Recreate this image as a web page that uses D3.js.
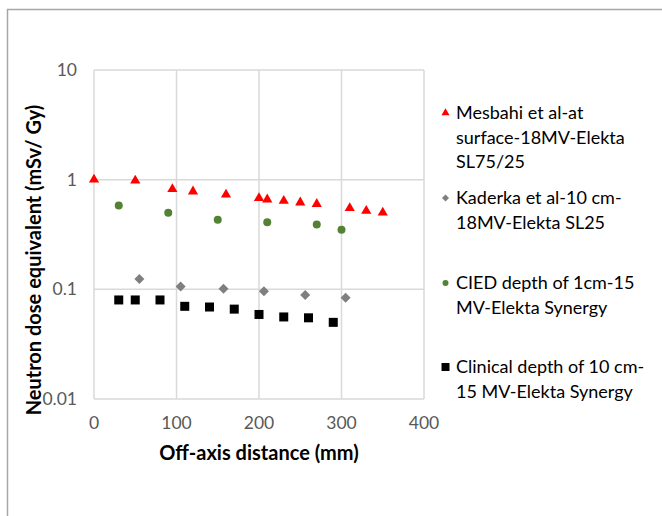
<!DOCTYPE html>
<html><head><meta charset="utf-8">
<script src="https://cdn.jsdelivr.net/npm/d3@7"></script>
<style>body{margin:0;background:#fff}svg{display:block}</style>
</head><body>
<script>
const mesbahiX = [0, 50, 95, 120, 160, 200, 210, 230, 250, 270, 310, 330, 350];
const mesbahiY = [1.0, 0.98, 0.82, 0.78, 0.73, 0.68, 0.66, 0.64, 0.62, 0.60, 0.55, 0.52, 0.50];
const kaderkaX = [55, 105, 157, 206, 256, 305];
const kaderkaY = [0.124, 0.106, 0.101, 0.096, 0.089, 0.084];
const ciedX = [30, 90, 150, 210, 270, 300];
const ciedY = [0.58, 0.50, 0.43, 0.41, 0.39, 0.35];
const clinicalX = [30, 50, 80, 110, 140, 170, 200, 230, 260, 290];
const clinicalY = [0.080, 0.080, 0.080, 0.070, 0.069, 0.066, 0.059, 0.056, 0.055, 0.050];
const xTicks = [0, 100, 200, 300, 400];
const yTicks = [0.01, 0.1, 1, 10];
const yTickLabels = ["0.01", "0.1", "1", "10"];
const legendLines = [
  ["Mesbahi et al-at", "surface-18MV-Elekta", "SL75/25"],
  ["Kaderka et al-10 cm-", "18MV-Elekta SL25"],
  ["CIED depth of 1cm-15", "MV-Elekta Synergy"],
  ["Clinical depth of 10 cm-", "15 MV-Elekta Synergy"]
];
const xTitle = "Off-axis distance (mm)";
const yTitle = "Neutron dose equivalent (mSv/ Gy)";

const W = 662, H = 516;
const font = "Lato, 'Noto Sans', sans-serif";
const svg = d3.select("body").append("svg").attr("width", W).attr("height", H);
svg.append("rect").attr("width", W).attr("height", H).attr("fill", "#fff");
// outer frame (cropped)
svg.append("rect").attr("x", 7.5).attr("y", 9.5).attr("width", W + 20).attr("height", H + 20)
  .attr("fill", "none").attr("stroke", "#a6a6a6").attr("stroke-width", 1.5);

const x = d3.scaleLinear().domain([0, 400]).range([94, 424]);
const y = d3.scaleLog().domain([0.01, 10]).range([399, 70]);

const g = svg.append("g");
g.selectAll("line.h").data(yTicks).join("line")
  .attr("x1", x(0)).attr("x2", x(400)).attr("y1", d => y(d)).attr("y2", d => y(d))
  .attr("stroke", "#d9d9d9").attr("stroke-width", 1.5);
g.selectAll("line.v").data(xTicks).join("line")
  .attr("y1", y(0.01)).attr("y2", y(10)).attr("x1", d => x(d)).attr("x2", d => x(d))
  .attr("stroke", "#d9d9d9").attr("stroke-width", 1.5);

g.selectAll("text.yt").data(yTicks).join("text")
  .attr("x", 77).attr("y", d => y(d)).attr("dy", "0.35em").attr("text-anchor", "end")
  .attr("font-family", font).attr("font-size", 17.5).attr("fill", "#595959")
  .text((d, i) => yTickLabels[i]);
g.selectAll("text.xt").data(xTicks).join("text")
  .attr("x", d => x(d)).attr("y", 423).attr("dy", "0.35em").attr("text-anchor", "middle")
  .attr("font-family", font).attr("font-size", 17.5).attr("fill", "#595959")
  .text(d => d);

svg.append("text").attr("x", (x(0) + x(400)) / 2).attr("y", 453).attr("dy", "0.35em")
  .attr("text-anchor", "middle").attr("font-family", font).attr("font-weight", "bold")
  .attr("font-size", 20).attr("fill", "#000").text(xTitle);
svg.append("text").attr("transform", "translate(34,260) rotate(-90)").attr("dy", "0.35em")
  .attr("text-anchor", "middle").attr("font-family", font).attr("font-weight", "bold")
  .attr("font-size", 20).attr("fill", "#000").text(yTitle);

const tri = d3.symbol().type(d3.symbolTriangle).size(45);
const dia = d3.symbol().type(d3.symbolSquare).size(50);

const plot = svg.append("g");
plot.selectAll("path.m").data(mesbahiX.map((v, i) => [v, mesbahiY[i]])).join("path")
  .attr("transform", d => `translate(${x(d[0])},${y(d[1])})`).attr("d", tri).attr("fill", "#ff0000");
plot.selectAll("path.k").data(kaderkaX.map((v, i) => [v, kaderkaY[i]])).join("path")
  .attr("transform", d => `translate(${x(d[0])},${y(d[1])}) rotate(45)`).attr("d", dia).attr("fill", "#7f7f7f");
plot.selectAll("circle.c").data(ciedX.map((v, i) => [v, ciedY[i]])).join("circle")
  .attr("cx", d => x(d[0])).attr("cy", d => y(d[1])).attr("r", 4).attr("fill", "#548235");
plot.selectAll("rect.s").data(clinicalX.map((v, i) => [v, clinicalY[i]])).join("rect")
  .attr("x", d => x(d[0]) - 4.5).attr("y", d => y(d[1]) - 4.5).attr("width", 9).attr("height", 9).attr("fill", "#000");

const legTop = [113, 198, 283, 367];
const lg = svg.append("g");
const mk = [
  (s, cy) => s.append("path").attr("transform", `translate(445.5,${cy})`).attr("d", d3.symbol().type(d3.symbolTriangle).size(28)).attr("fill", "#ff0000"),
  (s, cy) => s.append("path").attr("transform", `translate(445.5,${cy}) rotate(45)`).attr("d", d3.symbol().type(d3.symbolSquare).size(25)).attr("fill", "#7f7f7f"),
  (s, cy) => s.append("circle").attr("cx", 445.5).attr("cy", cy).attr("r", 3).attr("fill", "#548235"),
  (s, cy) => s.append("rect").attr("x", 441.5).attr("y", cy - 4).attr("width", 8).attr("height", 8).attr("fill", "#000")
];
legendLines.forEach((lines, i) => {
  mk[i](lg, legTop[i]);
  lines.forEach((t, j) => {
    lg.append("text").attr("x", 456).attr("y", legTop[i] + j * 24.4).attr("dy", "0.35em")
      .attr("font-family", font).attr("font-size", 18).attr("fill", "#000").text(t);
  });
});
</script>
</body></html>
